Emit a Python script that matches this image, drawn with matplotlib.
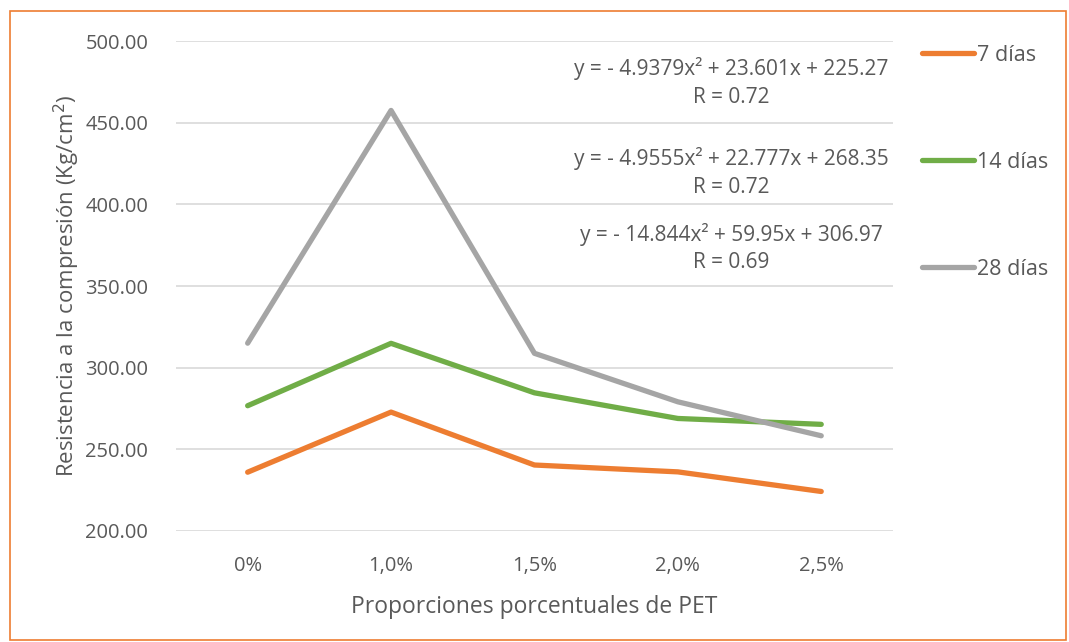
import matplotlib
matplotlib.use("Agg")
import matplotlib.pyplot as plt
from matplotlib.patches import Rectangle

plt.rcParams['font.family'] = ['Open Sans', 'DejaVu Sans']

# data
proporciones = ['0%', '1,0%', '1,5%', '2,0%', '2,5%']
dias_7 = [236.0, 272.8, 240.4, 236.2, 224.2]
dias_14 = [276.7, 314.9, 284.6, 268.9, 265.3]
dias_28 = [315.0, 457.5, 308.8, 279.1, 258.3]
series_names = ['7 días', '14 días', '28 días']
ecuaciones = ['y = - 4.9379x² + 23.601x + 225.27\nR = 0.72',
              'y = - 4.9555x² + 22.777x + 268.35\nR = 0.72',
              'y = - 14.844x² + 59.95x + 306.97\nR = 0.69']
yticks = [200, 250, 300, 350, 400, 450, 500]

txt = '#595959'
colores = ['#ED7D31', '#70AD47', '#A5A5A5']

fig = plt.figure(figsize=(10.69, 6.42), dpi=100)
ax = fig.add_axes([0.1646, 0.1729, 0.6707, 0.7632])

x = list(range(len(proporciones)))
for vals, name, c in zip([dias_7, dias_14, dias_28], series_names, colores):
    ax.plot(x, vals, color=c, lw=3.8, label=name, solid_capstyle='round',
            solid_joinstyle='round')

ax.set_xlim(-0.5, 4.5)
ax.set_ylim(200, 500)
ax.set_yticks(yticks)
ax.set_yticklabels(['%.2f' % v for v in yticks])
ax.set_xticks(x)
ax.set_xticklabels(proporciones)
ax.tick_params(length=0, labelsize=14.5, labelcolor=txt)
ax.tick_params(axis='y', pad=20)
ax.tick_params(axis='x', pad=18)
for s in ax.spines.values():
    s.set_visible(False)
ax.grid(axis='y', color='#D9D9D9', lw=1.2)
ax.set_axisbelow(True)

ax.set_xlabel('Proporciones porcentuales de PET', fontsize=16.5, color=txt, labelpad=14)
ax.set_ylabel('Resistencia a la compresión (Kg/cm$^2$)', fontsize=16, color=txt, labelpad=2)

# trendline equations
eq_y = [0.915, 0.732, 0.577]
for e, yy in zip(ecuaciones, eq_y):
    ax.text(0.775, yy, e, transform=ax.transAxes, ha='center', va='center',
            fontsize=15, color=txt, linespacing=1.4)

leg = ax.legend(loc='upper left', bbox_to_anchor=(1.028, 1.01), frameon=False,
                fontsize=15.5, labelcolor=txt, handlelength=2.45, handletextpad=0.1,
                labelspacing=4.0, borderaxespad=0)

# chart area border
fig.patches.append(Rectangle((0.0095, 0.003), 0.988, 0.98, transform=fig.transFigure,
                             fill=False, edgecolor='#ED7D31', lw=1.2))

fig.savefig('out.png', dpi=100)
